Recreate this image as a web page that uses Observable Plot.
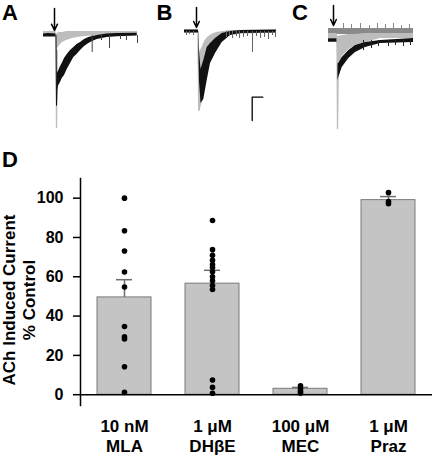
<!DOCTYPE html>
<html><head><meta charset="utf-8">
<script src="https://cdn.jsdelivr.net/npm/d3@7"></script>
<script src="https://cdn.jsdelivr.net/npm/@observablehq/plot@0.6"></script>
<style>
body{margin:0;background:#fff;}
#fig{position:relative;width:434px;height:456px;overflow:hidden;font-family:"Liberation Sans",Arial,sans-serif;}
#fig > svg, #fig > div{position:absolute;}
.lab{font-weight:bold;font-size:22px;line-height:22px;color:#000;}
.ytitle{font-weight:bold;font-size:17px;line-height:20px;text-align:center;white-space:pre;color:#000;transform:rotate(-90deg);}
</style></head><body><div id="fig"></div>
<script>
// ---------- Panel D data ----------
const categories = ["MLA", "DHβE", "MEC", "Praz"];
const doses = ["10 nM", "1 μM", "100 μM", "1 μM"];
const means = [49.5, 56.5, 3.0, 99.0];
const sems = [9.0, 6.8, 0.7, 1.8];
const mlaPoints = [100, 83.4, 73.1, 62.4, 54.8, 34.7, 29.4, 28.3, 14.2, 1.2];
const dhbePoints = [88.6, 73.8, 70.9, 68.4, 66.2, 64.7, 62.5, 60.0, 58.0, 55.5, 53.5, 7.5, 3.7, 0.7];
const mecPoints = [4.5, 3.2, 1.8, 0.8];
const prazPoints = [102.8, 98.3, 97.2];
const yTicks = [0, 20, 40, 60, 80, 100];
const yTitle = ["ACh Induced Current", "% Control"];

// ---------- Trace data: [time, upper, lower] envelopes, arbitrary units ----------
const aGray = [[-11,4,0],[1.5,4,0],[2,NaN,NaN],[2.5,2,-14],[5,3,-10],[8,3,-7],[12,4,-5],[18,4,-3],[26,4,-1.5],[41,4,0],[83,4,0]];
const aBlack = [[-11,1.5,-1.5],[-6,2,-1.5],[1.5,1.5,-1.5],[2,NaN,NaN],[2.8,-38,-55],[4.3,-35,-50],[6,-31,-47],[7.7,-28,-43],[10,-23,-40],[12.7,-19,-34],[16,-15,-28],[19.3,-12,-22],[22.5,-9,-19],[26,-7,-15],[30,-4,-11],[34.3,-2,-8],[38,-1,-6],[42.7,0,-4],[52.7,1.5,-2],[62.7,2,-1.2],[82.7,2.3,-0.5]];
const aPeakGray = [[1.5,2],[2,-92],[2.8,-15]];
const aPeakBlack = [[1.5,0],[2,-70],[2.8,-45]];
const aSpikes = [[37.7,-17],[47,-5],[55,-13],[66,-4],[72,-5],[83,-8]];

const bGray = [[-12,1.5,-1.5],[1.5,1.5,-1.5],[2,-10,-79],[3.5,-20,-79],[5.5,-16,-72],[8,-10,-55],[11,-6,-36],[15,-3,-22],[20,-1,-13],[26,0,-6],[34,1,-3],[80,1.5,-1.5]];
const bBlack = [[-12,1.5,-1.5],[2,1.5,-1.5],[3,-20,-50],[4.5,-38,-72],[7.3,-29,-68],[10.7,-16,-49],[14,-12,-32],[19,-7,-22],[25.7,-2,-11],[34,0,-4],[45,1,-2],[80,1.5,-1.5]];
const bPeakGray = [[1.5,0],[2.8,-79],[3.5,-60]];
const bSpikes = [[-10,-4],[-7,-3],[-3,-4],[30,-6],[33,-4],[36,-7],[40,-5],[43,-7],[47,-6],[51,-5],[56,-21],[60,-5],[64,-7],[68,-6],[72,-8],[76,-4],[79,-6]];
const scaleBarT = 10.6, scaleBarI = 23.3;

const cMid = [[-5,12,6],[80,12,6]];
const cMidSpikes = [[10,17],[18,16],[27,17],[36,15],[44,17],[52,16],[60,17],[68,15],[76,16]];
const cLight = [[-5,7,2],[3.5,7,2],[4.5,4,-28],[8.7,5,-16],[15.3,6,-9],[22,6,-5],[32,7,-2],[47,7,2],[80,7,2]];
const cBlack = [[-5,1.7,-1.7],[3.5,1.7,-1.7],[4,NaN,NaN],[4.5,-23,-40],[5.3,-23,-37],[8.7,-17,-27],[15.3,-10,-18],[22,-5,-12],[32,-2,-7],[47,0,-3],[80,2,-2]];
const cPeakLight = [[3.5,0],[4,-88],[4.8,-25]];
const cSpikes = [[30,-10],[38,-8],[45,-6],[55,-6],[62,-5],[70,-6],[77,-5]];
const arrowTimes = [0];

const FONT = '"Liberation Sans", Arial, Helvetica, sans-serif';
const LIGHT = "#bdbdbd", MID = "#8a8a8a", DARK = "#111";
const fig = document.getElementById("fig");

// ---------- Panel D ----------
const barData = categories.map((c, i) => ({cat: c, mean: means[i], sem: sems[i]}));
const points = [
  ...mlaPoints.map(v => ({cat: categories[0], v})),
  ...dhbePoints.map(v => ({cat: categories[1], v})),
  ...mecPoints.map(v => ({cat: categories[2], v})),
  ...prazPoints.map(v => ({cat: categories[3], v}))
];
const barPlot = Plot.plot({
  width: 434, height: 456,
  marginTop: 178, marginBottom: 51, marginLeft: 80, marginRight: 2,
  style: {fontFamily: FONT, fontWeight: "bold", fontSize: "16px", background: "transparent", color: "#000"},
  x: {domain: categories, paddingInner: 0.386, paddingOuter: 0.193, axis: null},
  y: {domain: [-5.5, 110], axis: null},
  marks: [
    Plot.barY(barData, {x: "cat", y: "mean", fill: "#c4c4c4", stroke: "#7a7a7a", strokeWidth: 1}),
    Plot.ruleX(barData, {x: "cat", y1: "mean", y2: d => d.mean + d.sem, stroke: "#6e6e6e", strokeWidth: 1.5}),
    Plot.tickY(barData, {x: "cat", y: d => d.mean + d.sem, stroke: "#6e6e6e", strokeWidth: 1.5, insetLeft: 19, insetRight: 19}),
    Plot.dot(points, {x: "cat", y: "v", r: 2.8, fill: "#000", stroke: "none"}),
    Plot.ruleY([0], {stroke: "#000", strokeWidth: 1.5}),
    Plot.frame({anchor: "left", stroke: "#000", strokeWidth: 1.5}),
    Plot.axisY({ticks: yTicks, tickSize: 7, tickPadding: 10, fontSize: 16, fontWeight: "bold", strokeWidth: 1.5, label: null}),
    Plot.text(categories, {x: d => d, text: (d, i) => doses[i] + "\n" + d, frameAnchor: "bottom", dy: 30, lineAnchor: "middle", lineHeight: 1.18, fontSize: 17, fontWeight: "bold"})
  ]
});
barPlot.style.left = "0px"; barPlot.style.top = "0px";
fig.appendChild(barPlot);

// y-axis title (two lines, rotated)
const yt = document.createElement("div");
yt.className = "ytitle"; yt.textContent = yTitle.join("\n"); yt.style.fontFamily = FONT;
yt.style.width = "200px"; yt.style.height = "40px";
yt.style.left = (20 - 100) + "px"; yt.style.top = (300 - 20) + "px";
fig.appendChild(yt);

// ---------- Trace panels ----------
const band = (rows, color) => Plot.areaY(rows, {x: d => d[0], y1: d => d[2], y2: d => d[1], fill: color, curve: "linear"});
const path = (rows, color, w) => Plot.line(rows, {x: d => d[0], y: d => d[1], stroke: color, strokeWidth: w});
const spikes = (rows, color, base) => Plot.ruleX(rows, {x: d => d[0], y1: base, y2: d => d[1], stroke: color, strokeWidth: 1});
const arrow = (top, bottom) => Plot.arrow(arrowTimes, {x1: d => d, x2: d => d, y1: top, y2: bottom, stroke: "#000", strokeWidth: 1.5, headLength: 7, headAngle: 50});

function trace(left, tDomain, iDomain, marks) {
  const svg = Plot.plot({
    width: tDomain[1] - tDomain[0], height: iDomain[1] - iDomain[0], margin: 0,
    x: {domain: tDomain, axis: null}, y: {domain: iDomain, axis: null},
    style: {background: "transparent", overflow: "visible"},
    marks
  });
  svg.style.left = left + "px"; svg.style.top = "0px";
  fig.appendChild(svg);
}

trace(40, [-14, 86], [-105, 35], [
  band(aGray, LIGHT),
  path(aPeakGray, LIGHT, 1.3),
  band(aBlack, DARK),
  path(aPeakBlack, DARK, 1),
  spikes(aSpikes, "#444", 0),
  arrow(27, 5)
]);

const sbOrigin = [55.7, -65.7];
trace(182, [-14, 86], [-109, 31], [
  band(bGray, LIGHT),
  path(bPeakGray, LIGHT, 1.3),
  band(bBlack, DARK),
  spikes(bSpikes, "#666", 0),
  arrow(24, 4),
  Plot.line([[sbOrigin[0], sbOrigin[1] - scaleBarI], sbOrigin, [sbOrigin[0] + scaleBarT, sbOrigin[1]]],
    {x: d => d[0], y: d => d[1], stroke: "#000", strokeWidth: 1.3})
]);

trace(325, [-8, 84], [-100, 40], [
  band(cMid, MID),
  spikes(cMidSpikes, MID, 12),
  band(cLight, LIGHT),
  path(cPeakLight, LIGHT, 1.3),
  band(cBlack, DARK),
  spikes(cSpikes, "#222", 0),
  arrow(35, 15)
]);

// ---------- Panel letters ----------
[["A", 2, 2], ["B", 156.5, 2], ["C", 292, 2], ["D", 2, 149]].forEach(([t, x, y]) => {
  const d = document.createElement("div");
  d.className = "lab"; d.textContent = t;
  d.style.left = x + "px"; d.style.top = y + "px"; d.style.fontFamily = FONT;
  fig.appendChild(d);
});
</script></body></html>
